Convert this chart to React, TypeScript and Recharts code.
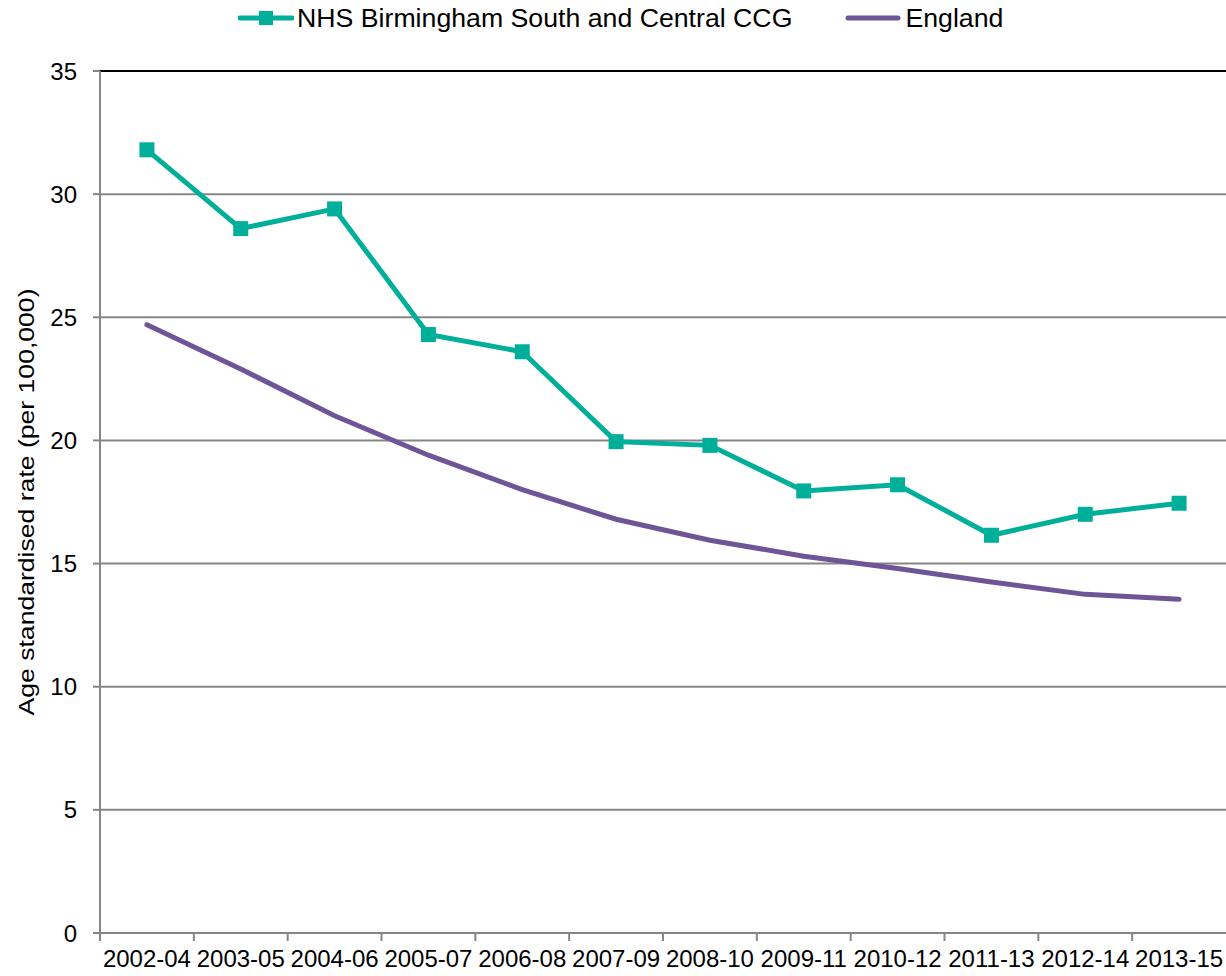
import React from "react";
import {
  LineChart,
  Line,
  XAxis,
  YAxis,
  CartesianGrid,
  ReferenceLine,
  Legend,
} from "recharts";

const periods = [
  "2002-04",
  "2003-05",
  "2004-06",
  "2005-07",
  "2006-08",
  "2007-09",
  "2008-10",
  "2009-11",
  "2010-12",
  "2011-13",
  "2012-14",
  "2013-15",
];

const ccgRates = [31.8, 28.6, 29.4, 24.3, 23.6, 19.95, 19.8, 17.95, 18.2, 16.15, 17.0, 17.45];
const englandRates = [24.7, 22.9, 21.0, 19.4, 18.0, 16.8, 15.95, 15.3, 14.8, 14.25, 13.75, 13.55];

const yTicks = [0, 5, 10, 15, 20, 25, 30, 35];

const TEAL = "#00AF9A";
const PURPLE = "#6E5597";
const GRID = "#868686";
const FONT = "'Liberation Sans', Arial, sans-serif";

const WIDTH = 1226;
const HEIGHT = 976;
const PLOT_LEFT = 100;
const BAND = (WIDTH - PLOT_LEFT) / periods.length;

// x is the band centre, so categories sit between the tick marks like in Excel
const data = periods.map((p, i) => ({
  x: i + 0.5,
  period: p,
  ccg: ccgRates[i],
  england: englandRates[i],
}));

const xTicks = data.map((d) => d.x);

const XTick = (props: any) => {
  const { x, y, payload, index } = props;
  return (
    <g>
      <line
        x1={x - BAND / 2}
        x2={x - BAND / 2}
        y1={y - 17}
        y2={y - 9}
        stroke={GRID}
        strokeWidth={2}
      />
      <text
        x={x}
        y={y}
        dy="0.71em"
        textAnchor="middle"
        fill="#000"
        fontSize={24}
        fontFamily={FONT}
      >
        {periods[index] ?? payload.value}
      </text>
    </g>
  );
};

const SquareDot = (props: any) => {
  const { cx, cy, index } = props;
  if (cx == null || cy == null) return null;
  return (
    <rect
      key={`sq-${index}`}
      x={cx - 7.5}
      y={cy - 7.5}
      width={15}
      height={15}
      fill={TEAL}
    />
  );
};

const LegendBox = () => (
  <div
    style={{
      display: "flex",
      alignItems: "center",
      height: 36,
      paddingLeft: 238,
      fontFamily: FONT,
      fontSize: 26.7,
      color: "#000",
    }}
  >
    <svg width={56} height={20} style={{ display: "block" }}>
      <line x1={2} x2={54} y1={10} y2={10} stroke={TEAL} strokeWidth={5} strokeLinecap="round" />
      <rect x={21} y={3} width={14} height={14} fill={TEAL} />
    </svg>
    <span style={{ marginLeft: 3 }}>NHS Birmingham South and Central CCG</span>
    <svg width={58} height={20} style={{ display: "block", marginLeft: 52 }}>
      <line x1={4} x2={54} y1={10} y2={10} stroke={PURPLE} strokeWidth={5} strokeLinecap="round" />
    </svg>
    <span style={{ marginLeft: 3 }}>England</span>
  </div>
);

const YLabel = () => (
  <text
    transform="translate(26, 502) rotate(-90)"
    textAnchor="middle"
    dominantBaseline="central"
    fontSize={22}
    fontFamily={FONT}
    fill="#000"
    textLength={427}
    lengthAdjust="spacingAndGlyphs"
  >
    Age standardised rate (per 100,000)
  </text>
);

export default function App() {
  return (
    <div style={{ position: "absolute", left: 0, top: 0, background: "#fff" }}>
      <LineChart
        width={WIDTH}
        height={HEIGHT}
        data={data}
        margin={{ top: 71, right: 0, bottom: 0, left: 0 }}
      >
        <CartesianGrid horizontal vertical={false} stroke={GRID} strokeWidth={2} />
        <XAxis
          dataKey="x"
          type="number"
          domain={[0, 12]}
          ticks={xTicks}
          interval={0}
          height={43}
          tickSize={8}
          tickMargin={9}
          tickLine={false}
          axisLine={{ stroke: GRID, strokeWidth: 2 }}
          tick={<XTick />}
        />
        <YAxis
          width={PLOT_LEFT}
          domain={[0, 35]}
          ticks={yTicks}
          interval={0}
          tickSize={7}
          tickMargin={16}
          axisLine={{ stroke: GRID, strokeWidth: 2 }}
          tickLine={{ stroke: GRID, strokeWidth: 2 }}
          tick={{ fill: "#000", fontSize: 24, fontFamily: FONT }}
        />
        <ReferenceLine y={35} stroke="#000" strokeWidth={2} />
        <Legend
          verticalAlign="middle"
          align="center"
          layout="horizontal"
          wrapperStyle={{ top: 0, left: 0, width: WIDTH }}
          content={<LegendBox />}
        />
        <Line
          type="linear"
          dataKey="england"
          stroke={PURPLE}
          strokeWidth={5}
          strokeLinecap="round"
          dot={false}
          activeDot={false}
          isAnimationActive={false}
        />
        <Line
          type="linear"
          dataKey="ccg"
          stroke={TEAL}
          strokeWidth={5}
          dot={SquareDot}
          activeDot={false}
          isAnimationActive={false}
        />
        <YLabel />
      </LineChart>
    </div>
  );
}
